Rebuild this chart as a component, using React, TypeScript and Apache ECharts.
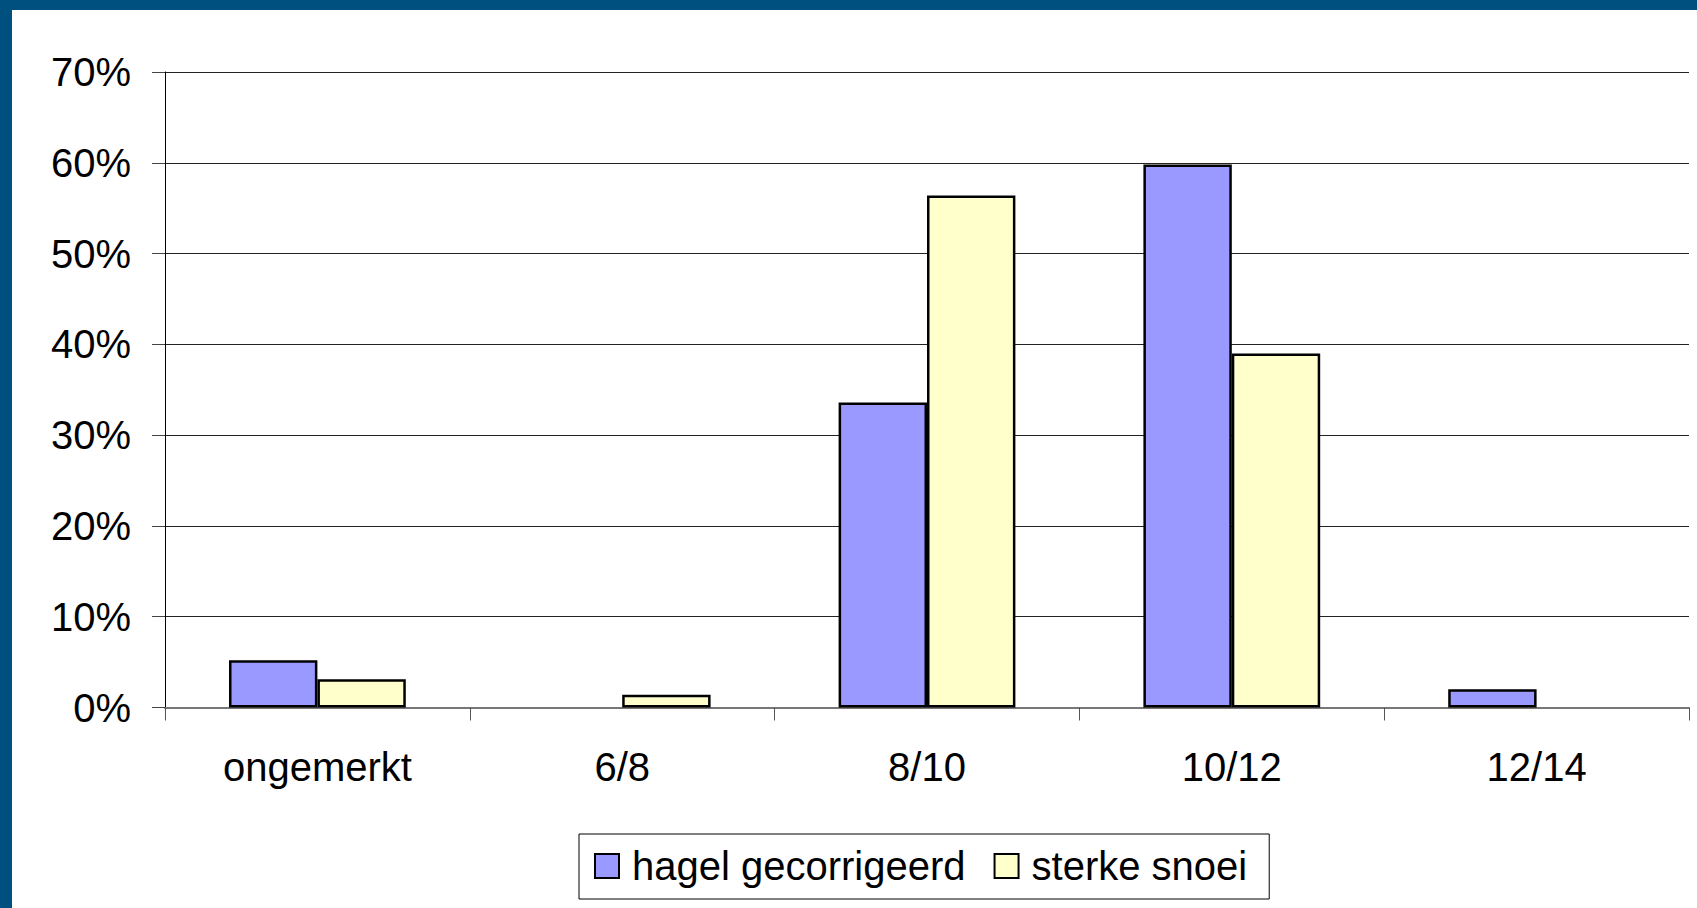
import React, { useEffect, useRef } from "react";
import * as echarts from "echarts";

const categories = ["ongemerkt", "6/8", "8/10", "10/12", "12/14"];
const hagelGecorrigeerd = [5.2, 0, 33.6, 59.8, 2.0];
const sterkeSnoei = [3.1, 1.4, 56.4, 39.0, 0];
const seriesNames = ["hagel gecorrigeerd", "sterke snoei"];
const yMin = 0;
const yMax = 70;
const yInterval = 10;

const FONT = '"Liberation Sans", Arial, sans-serif';

export default function App() {
  const ref = useRef<HTMLDivElement>(null);

  useEffect(() => {
    if (!ref.current) return;
    const chart = echarts.init(ref.current, null, { renderer: "svg" });
    const toData = (arr: number[]) => arr.map((v) => (v === 0 ? null : v));
    chart.setOption({
      animation: false,
      backgroundColor: "#ffffff",
      textStyle: { fontFamily: FONT },
      graphic: [
        { type: "rect", left: 0, top: 0, shape: { x: 0, y: 0, width: 1697, height: 10 }, style: { fill: "#00507F" }, z: 100 },
        { type: "rect", left: 0, top: 0, shape: { x: 0, y: 0, width: 12, height: 908 }, style: { fill: "#00507F" }, z: 100 },
      ],
      grid: { left: 165, right: 8, top: 72, bottom: 200.5, containLabel: false },
      legend: {
        left: 579,
        top: 834,
        orient: "horizontal",
        padding: [12, 22, 13, 15],
        itemGap: 28,
        itemWidth: 24,
        itemHeight: 24,
        borderColor: "#000",
        borderWidth: 1,
        icon: "rect",
        textStyle: { fontSize: 40, color: "#000", fontFamily: FONT, padding: [0, 0, 0, 8] },
        data: seriesNames,
      },
      xAxis: {
        type: "category",
        data: categories,
        axisLine: { show: true, lineStyle: { color: "#777", width: 2 } },
        axisTick: { show: true, alignWithLabel: false, length: 13, lineStyle: { color: "#555", width: 1 } },
        axisLabel: { fontSize: 40, color: "#000", margin: 39, fontFamily: FONT },
        splitLine: { show: false },
      },
      yAxis: {
        type: "value",
        min: yMin,
        max: yMax,
        interval: yInterval,
        axisLine: { show: true, lineStyle: { color: "#000", width: 1 } },
        axisTick: { show: true, length: 13, lineStyle: { color: "#444", width: 1 } },
        axisLabel: { fontSize: 40, color: "#000", margin: 34, formatter: "{value}%", fontFamily: FONT },
        splitLine: { show: true, lineStyle: { color: "#222", width: 1 } },
      },
      series: [
        {
          name: seriesNames[0],
          type: "bar",
          data: toData(hagelGecorrigeerd),
          barGap: "0%",
          barCategoryGap: "42%",
          itemStyle: { color: "#9999FF", borderColor: "#000", borderWidth: 2.5 },
        },
        {
          name: seriesNames[1],
          type: "bar",
          data: toData(sterkeSnoei),
          barGap: "0%",
          barCategoryGap: "42%",
          itemStyle: { color: "#FFFFCC", borderColor: "#000", borderWidth: 2.5 },
        },
      ],
    });
    return () => chart.dispose();
  }, []);

  return (
    <div
      ref={ref}
      style={{ position: "fixed", left: 0, top: 0, width: 1697, height: 908 }}
    />
  );
}
